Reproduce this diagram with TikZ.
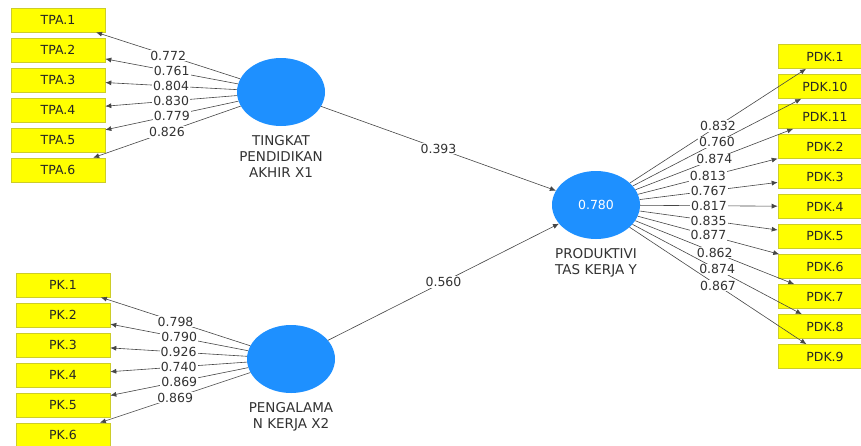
\documentclass[tikz,border=0pt]{standalone}
\usepackage{fontspec}
\setmainfont{DejaVu Sans}
\usetikzlibrary{shapes.geometric,arrows.meta,positioning}
\definecolor{lvblue}{RGB}{30,144,255}
\definecolor{indyellow}{RGB}{255,255,0}
\definecolor{indedge}{RGB}{205,205,40}
\definecolor{txtgray}{RGB}{50,50,50}
\definecolor{linegray}{RGB}{70,70,70}

\begin{document}
\begin{tikzpicture}[x=1pt,y=-1pt,
  every node/.style={font=\fontsize{12.5}{16}\selectfont},
  ind/.style={rectangle,fill=indyellow,draw=indedge,line width=0.6pt,minimum width=94pt,minimum height=24pt,inner sep=0pt,text=black!85},
  lv/.style={ellipse,fill=lvblue,minimum width=88pt,minimum height=68pt,inner sep=0pt,text=white},
  lvname/.style={align=center,text=txtgray,inner sep=1pt,font=\fontsize{13.5}{16}\selectfont},
  ld/.style={draw=linegray,line width=0.6pt,-{Latex[length=6pt,width=5pt]}},
  lbl/.style={fill=white,text=txtgray,inner sep=1pt,midway}]
\clip (0,0) rectangle (861,445);
\fill[white] (0,0) rectangle (861,445);

\node[lv] (x1) at (281,92) {};
\node[lv] (x2) at (291,359) {};
\node[lv] (y) at (596,205) {0.780};
\node[lvname,below=8pt of x1] (x1name) {TINGKAT\\PENDIDIKAN\\AKHIR X1};
\node[lvname,below=8pt of x2] (x2name) {PENGALAMA\\N KERJA X2};
\node[lvname,below=8pt of y] (yname) {PRODUKTIVI\\TAS KERJA Y};

\node[ind] (tpa1) at (58,20) {TPA.1};
\node[ind] (tpa2) at (58,50) {TPA.2};
\node[ind] (tpa3) at (58,80) {TPA.3};
\node[ind] (tpa4) at (58,110) {TPA.4};
\node[ind] (tpa5) at (58,140) {TPA.5};
\node[ind] (tpa6) at (58,170) {TPA.6};

\node[ind] (pk1) at (63,285) {PK.1};
\node[ind] (pk2) at (63,315) {PK.2};
\node[ind] (pk3) at (63,345) {PK.3};
\node[ind] (pk4) at (63,375) {PK.4};
\node[ind] (pk5) at (63,405) {PK.5};
\node[ind] (pk6) at (63,435) {PK.6};

\node[ind] (pdk1) at (825,56.5) {PDK.1};
\node[ind] (pdk10) at (825,86.5) {PDK.10};
\node[ind] (pdk11) at (825,116.5) {PDK.11};
\node[ind] (pdk2) at (825,146.5) {PDK.2};
\node[ind] (pdk3) at (825,176.5) {PDK.3};
\node[ind] (pdk4) at (825,206.5) {PDK.4};
\node[ind] (pdk5) at (825,236.5) {PDK.5};
\node[ind] (pdk6) at (825,266.5) {PDK.6};
\node[ind] (pdk7) at (825,296.5) {PDK.7};
\node[ind] (pdk8) at (825,326.5) {PDK.8};
\node[ind] (pdk9) at (825,356.5) {PDK.9};

\draw[ld] (x1) -- node[lbl] {0.772} (tpa1);
\draw[ld] (x1) -- node[lbl] {0.761} (tpa2);
\draw[ld] (x1) -- node[lbl] {0.804} (tpa3);
\draw[ld] (x1) -- node[lbl] {0.830} (tpa4);
\draw[ld] (x1) -- node[lbl] {0.779} (tpa5);
\draw[ld] (x1) -- node[lbl] {0.826} (tpa6);

\draw[ld] (x2) -- node[lbl] {0.798} (pk1);
\draw[ld] (x2) -- node[lbl] {0.790} (pk2);
\draw[ld] (x2) -- node[lbl] {0.926} (pk3);
\draw[ld] (x2) -- node[lbl] {0.740} (pk4);
\draw[ld] (x2) -- node[lbl] {0.869} (pk5);
\draw[ld] (x2) -- node[lbl] {0.869} (pk6);

\draw[ld] (y) -- node[lbl] {0.832} (pdk1);
\draw[ld] (y) -- node[lbl] {0.760} (pdk10);
\draw[ld] (y) -- node[lbl] {0.874} (pdk11);
\draw[ld] (y) -- node[lbl] {0.813} (pdk2);
\draw[ld] (y) -- node[lbl] {0.767} (pdk3);
\draw[ld] (y) -- node[lbl] {0.817} (pdk4);
\draw[ld] (y) -- node[lbl] {0.835} (pdk5);
\draw[ld] (y) -- node[lbl] {0.877} (pdk6);
\draw[ld] (y) -- node[lbl] {0.862} (pdk7);
\draw[ld] (y) -- node[lbl] {0.874} (pdk8);
\draw[ld] (y) -- node[lbl] {0.867} (pdk9);

\draw[ld] (x1) -- node[lbl] {0.393} (y);
\draw[ld] (x2) -- node[lbl] {0.560} (y);
\end{tikzpicture}
\end{document}
